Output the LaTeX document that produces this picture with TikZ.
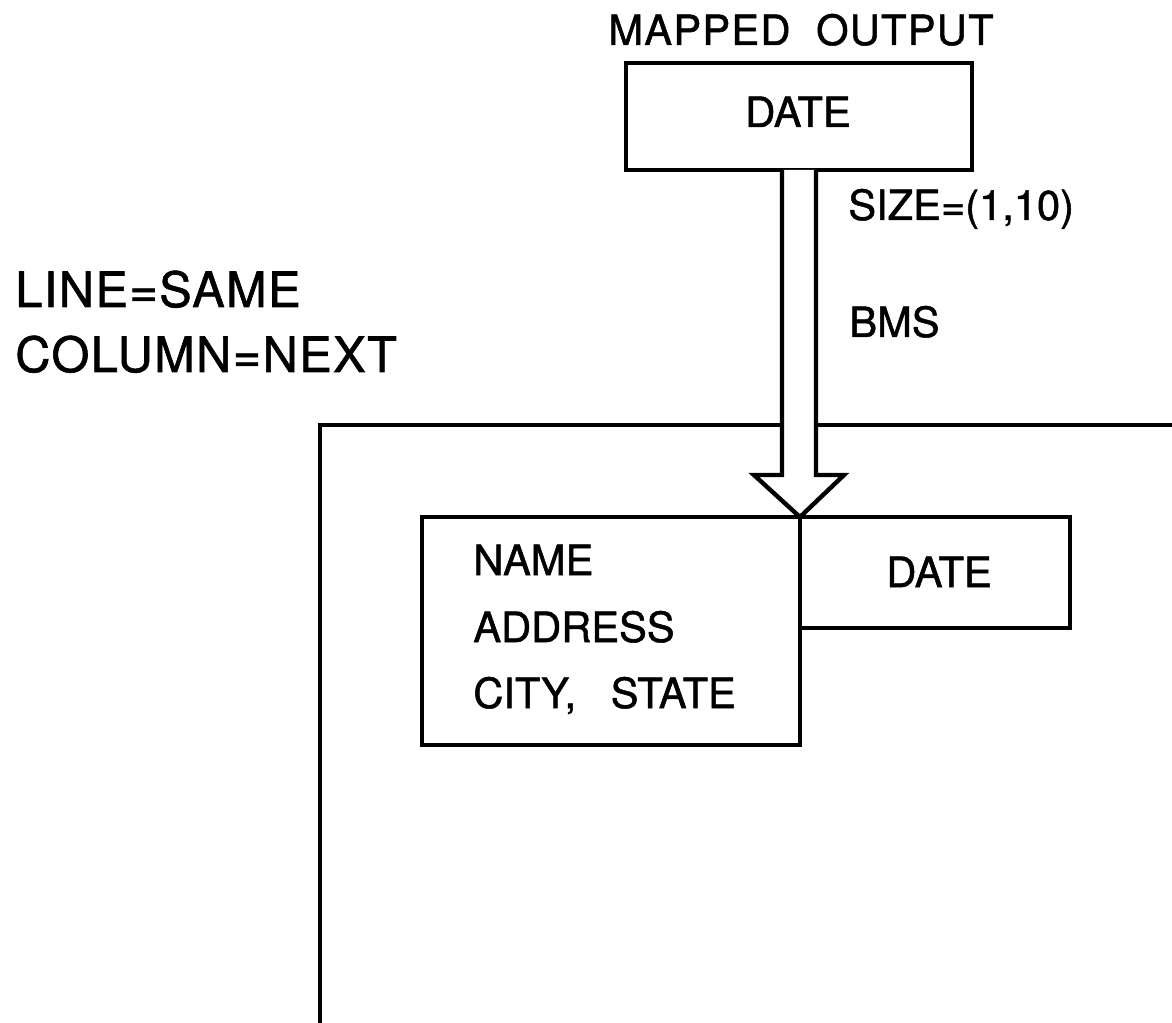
\documentclass[tikz,border=0pt]{standalone}
\usepackage{fontspec}
\setmainfont[FakeBold=1.2]{TeX Gyre Heros}
\newfontfamily\spaced[LetterSpace=3,FakeBold=1.2]{TeX Gyre Heros}
\usetikzlibrary{calc}
\begin{document}
\begin{tikzpicture}[x=0.02cm,y=-0.02cm,
  ln/.style={line width=2.5pt},
  boxnode/.style={ln,draw,fill=white,inner sep=0pt,outer sep=0pt},
  lbl/.style={inner sep=0pt,font=\fontsize{23.7}{28}\selectfont},
  biglbl/.style={inner sep=0pt,font=\spaced\fontsize{27.7}{32}\selectfont},
]
\useasboundingbox (0,0) rectangle (1172,1023);
% frame
\coordinate (fbl) at (320,1030);
\coordinate (ftl) at (320,425);
\coordinate (ftr) at (1180,425);
\draw[ln] (fbl) -- (ftl) -- (ftr);
% boxes
\node[boxnode,minimum width=6.92cm,minimum height=2.14cm] (top) at (799,116.5) {};
\node[lbl,anchor=base] (d1) at (798,127) {DATE};
\node[boxnode,minimum width=7.56cm,minimum height=4.56cm] (inner) at (611,631) {};
\node[boxnode,anchor=north west,minimum width=5.4cm,minimum height=2.22cm] (date2) at (inner.north east) {};
\node[lbl,anchor=base] (d2) at (939,587) {DATE};
% hollow arrow
\coordinate (tip) at (inner.north east);
\coordinate (s) at (tip |- top.south);
\draw[ln,fill=white,line join=miter]
  ($(s)+(-18,0)$) -- ($(tip)+(-18,-42)$) -- ($(tip)+(-46,-42)$) -- (tip)
  -- ($(tip)+(44,-42)$) -- ($(tip)+(16,-42)$) -- ($(s)+(16,0)$);
% texts
\node[lbl,anchor=base,font=\spaced\fontsize{23.7}{28}\selectfont] (mo) at (801,45) {MAPPED\ \ OUTPUT};
\node[lbl,anchor=base west] (size) at (848,220) {SIZE=(1,10)};
\node[lbl,anchor=base west] (bms) at (849,337) {BMS};
\node[biglbl,anchor=base west] (ls) at (15,307) {LINE=SAME};
\node[biglbl,anchor=base west] (cn) at (15,372) {COLUMN=NEXT};
\node[lbl,anchor=base west] (nm) at (473,575) {NAME};
\node[lbl,anchor=base west] (ad) at (473,642) {ADDRESS};
\node[lbl,anchor=base west] (cs) at (473,708) {CITY,\ \ \ STATE};
\end{tikzpicture}
\end{document}
